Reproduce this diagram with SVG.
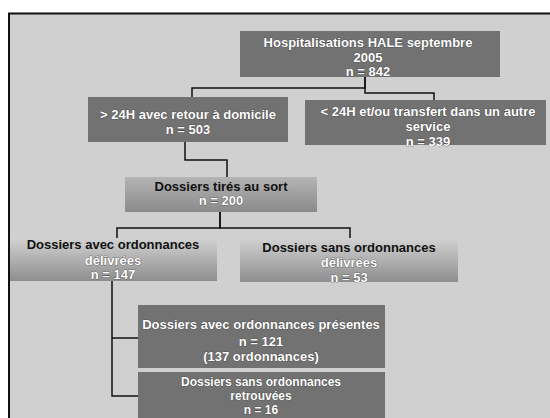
<svg xmlns="http://www.w3.org/2000/svg" width="550" height="418" viewBox="0 0 550 418">
<defs>
<linearGradient id="gLight" x1="0" y1="0" x2="0" y2="1">
<stop offset="0" stop-color="#d2d2d2"/>
<stop offset="1" stop-color="#8e8e8e"/>
</linearGradient>
<linearGradient id="gMid" x1="0" y1="0" x2="0" y2="1">
<stop offset="0" stop-color="#b4b4b4"/>
<stop offset="1" stop-color="#8a8a8a"/>
</linearGradient>
<style>
.dark{fill:#727272}
.light{fill:url(#gLight)}
.mid{fill:url(#gMid)}
text{font-family:"Liberation Sans",Arial,sans-serif;font-size:13px;font-weight:bold;text-anchor:middle}
.w{fill:#ffffff;stroke:#333333;stroke-width:0.6;paint-order:stroke}
.b{fill:#111111}
.s{font-size:12px}
.c{fill:none;stroke:#111111;stroke-width:1.5}
</style>
</defs>
<rect x="0" y="0" width="550" height="418" fill="#ffffff"/>
<rect x="9" y="13" width="541" height="405" fill="#d0d0d0"/>
<path d="M9 418 V13.5 H550" fill="none" stroke="#111111" stroke-width="2"/>

<g id="connectors">
<path class="c" d="M365 77 V88 H192 V97"/>
<path class="c" d="M365 77 V93 H434 V100"/>
<path class="c" d="M185 142 V160 H227 V177"/>
<path class="c" d="M220 212 V228 H117 V238"/>
<path class="c" d="M220 212 V228 H350 V238"/>
<path class="c" d="M112 281 V396 H138"/>
<path class="c" d="M112 338 H138"/>
</g>

<g id="n-hospitalisations">
<rect class="dark" x="240" y="31" width="260" height="46"/>
<text class="w" x="368" y="47">Hospitalisations  HALE  septembre</text>
<text class="w" x="368" y="62">2005</text>
<text class="w" x="368" y="76">n = 842</text>
</g>

<g id="n-retour">
<rect class="dark" x="88" y="97" width="200" height="45"/>
<text class="w" x="188" y="119">&gt; 24H avec retour à domicile</text>
<text class="w" x="188" y="134">n = 503</text>
</g>

<g id="n-transfert">
<rect class="dark" x="305" y="100" width="241" height="45"/>
<text class="w" x="428" y="116">&lt; 24H et/ou transfert dans un autre</text>
<text class="w" x="428" y="131">service</text>
<text class="w" x="428" y="146">n = 339</text>
</g>

<g id="n-tires">
<rect class="mid" x="125" y="177" width="192" height="35"/>
<text class="b" x="221" y="191">Dossiers tirés au sort</text>
<text class="w" x="221" y="205">n = 200</text>
</g>

<g id="n-avec-delivrees">
<rect class="light" x="10" y="238" width="207" height="43"/>
<text class="b" x="113" y="249">Dossiers avec ordonnances</text>
<text class="w" x="113" y="265">délivrées</text>
<text class="w" x="113" y="279">n = 147</text>
</g>

<g id="n-sans-delivrees">
<rect class="light" x="240" y="238" width="218" height="44"/>
<text class="b" x="349" y="252">Dossiers sans ordonnances</text>
<text class="w" x="349" y="267">délivrées</text>
<text class="w" x="349" y="282">n = 53</text>
</g>

<g id="n-presentes">
<rect class="dark" x="138" y="305" width="247" height="63"/>
<text class="w" x="261" y="329">Dossiers avec ordonnances présentes</text>
<text class="w" x="261" y="346">n = 121</text>
<text class="w" x="261" y="361">(137 ordonnances)</text>
</g>

<g id="n-retrouvees">
<rect class="dark" x="138" y="372" width="247" height="50"/>
<text class="w s" x="261" y="386">Dossiers sans ordonnances</text>
<text class="w s" x="261" y="400">retrouvées</text>
<text class="w s" x="261" y="414">n = 16</text>
</g>
</svg>
